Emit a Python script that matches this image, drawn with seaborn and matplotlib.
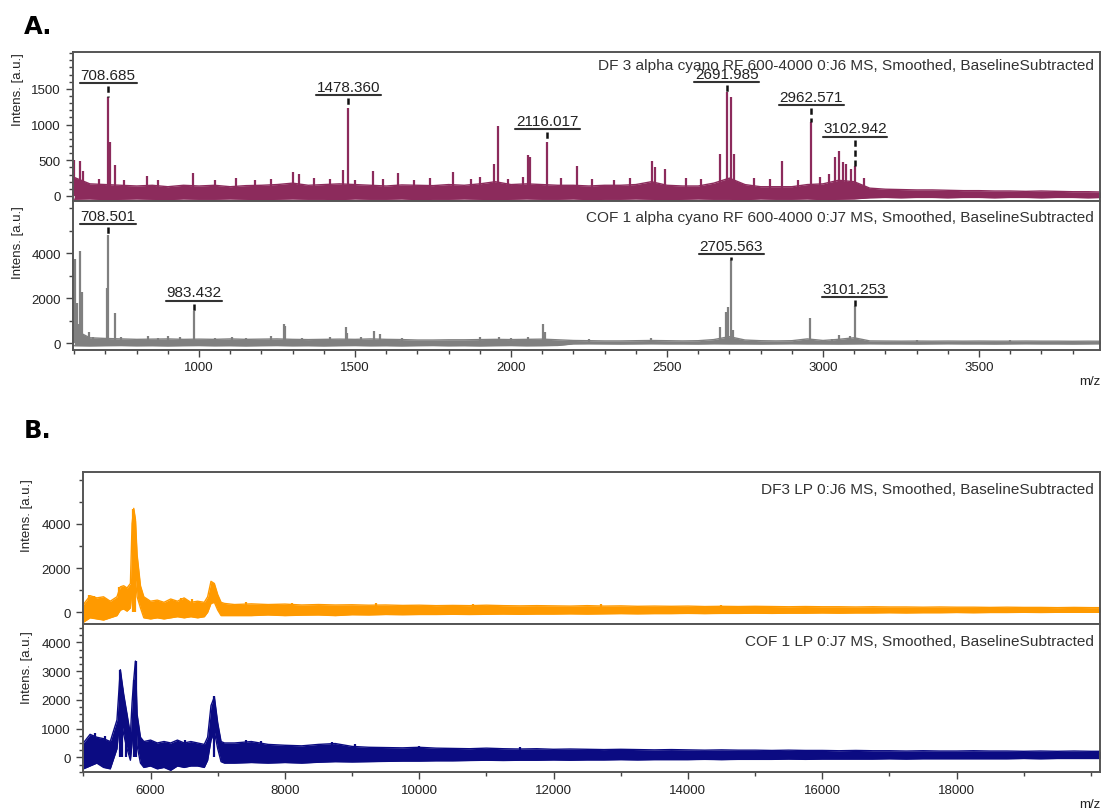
import matplotlib
matplotlib.use("Agg")
import matplotlib.pyplot as plt
from matplotlib.lines import Line2D
from matplotlib.ticker import FixedLocator, MultipleLocator
import seaborn as sns

# ---------------- Panel A: alpha-cyano reflectron spectra ----------------
A_MZ = [600, 650, 700, 750, 800, 850, 900, 950, 1000, 1050,
        1100, 1150, 1200, 1250, 1300, 1350, 1400, 1450, 1500, 1550,
        1600, 1650, 1700, 1750, 1800, 1850, 1900, 1950, 2000, 2050,
        2100, 2150, 2200, 2250, 2300, 2350, 2400, 2450, 2500, 2550,
        2600, 2650, 2700, 2750, 2800, 2850, 2900, 2950, 3000, 3050,
        3100, 3150, 3200, 3250, 3300, 3350, 3400, 3450, 3500, 3550,
        3600, 3650, 3700, 3750, 3800, 3850, 3900]

DF3_A_UPPER = [260, 170, 160, 150, 140, 150, 130, 150, 140, 150,
               130, 145, 150, 160, 180, 150, 160, 170, 160, 150,
               140, 155, 150, 145, 160, 150, 170, 200, 160, 170,
               160, 150, 150, 140, 150, 150, 160, 200, 150, 140,
               140, 180, 250, 160, 130, 130, 130, 160, 170, 220,
               200, 110, 95, 90, 85, 85, 80, 75, 75, 70,
               70, 65, 70, 65, 60, 60, 55]
DF3_A_LOWER = [-45, -40, -50, -45, -40, -45, -50, -40, -45, -45,
               -40, -45, -50, -45, -40, -45, -45, -50, -40, -45,
               -45, -40, -50, -45, -45, -40, -45, -50, -45, -40,
               -45, -45, -40, -50, -45, -45, -40, -45, -50, -45,
               -40, -45, -45, -50, -40, -45, -45, -40, -50, -45,
               -40, -25, -20, -25, -20, -20, -25, -20, -20, -25,
               -20, -20, -25, -20, -20, -25, -20]

DF3_A_PEAK_MZ = [600, 620, 627, 680, 714, 729, 760, 834, 870, 982,
                 1050, 1120, 1180, 1230, 1302, 1319, 1370, 1420, 1461, 1500,
                 1558, 1590, 1638, 1690, 1740, 1815, 1872, 1900, 1946, 1957,
                 1990, 2040, 2054, 2062, 2160, 2210, 2260, 2330, 2380, 2452,
                 2462, 2493, 2560, 2610, 2671, 2705, 2715, 2780, 2830, 2868,
                 2920, 2990, 3018, 3038, 3052, 3064, 3073, 3089, 3130]
DF3_A_PEAK_H = [500, 490, 350, 240, 750, 436, 230, 281, 220, 328,
                230, 250, 220, 240, 337, 305, 250, 240, 366, 230,
                352, 240, 319, 230, 250, 337, 234, 260, 445, 980,
                240, 260, 577, 540, 250, 421, 240, 230, 250, 492,
                400, 375, 250, 240, 586, 1380, 586, 250, 240, 492,
                230, 260, 305, 540, 633, 469, 445, 375, 250]
DF3_A_LABEL_MZ = [708.685, 1478.360, 2116.017, 2691.985, 2962.571, 3102.942]
DF3_A_LABEL_H = [1380, 1230, 750, 1450, 1030, 420]

COF_A_UPPER = [600, 250, 220, 200, 180, 190, 200, 180, 190, 180,
               200, 180, 190, 200, 180, 170, 180, 190, 180, 200,
               180, 170, 150, 150, 160, 160, 170, 180, 170, 180,
               190, 160, 130, 120, 110, 110, 120, 130, 120, 110,
               120, 170, 300, 150, 120, 110, 120, 200, 130, 180,
               250, 110, 105, 100, 105, 100, 105, 100, 105, 100,
               100, 105, 100, 100, 95, 100, 95]
COF_A_LOWER = [-100, -110, -100, -95, -105, -100, -110, -100, -95, -105,
               -100, -110, -100, -95, -105, -100, -110, -100, -95, -105,
               -100, -110, -100, -95, -105, -100, -110, -100, -95, -105,
               -100, -90, -20, -15, -20, -25, -20, -15, -20, -20,
               -25, -15, -20, -20, -25, -20, -15, -20, -20, -25,
               -20, -15, -20, -20, -25, -20, -15, -20, -20, -25,
               -20, -15, -20, -20, -25, -20, -15]

COF_A_PEAK_MZ = [603, 609, 612, 620, 624, 646, 660, 705, 729, 750,
                 836, 870, 902, 940, 1050, 1106, 1150, 1231, 1271, 1277,
                 1330, 1420, 1470, 1475, 1520, 1561, 1580, 1650, 1900, 1960,
                 2000, 2055, 2104, 2109, 2250, 2450, 2671, 2689, 2696, 2711,
                 2959, 3030, 3052, 3086, 3300, 3600]
COF_A_PEAK_H = [3730, 1815, 860, 4100, 2260, 490, 300, 2480, 1340, 280,
                340, 260, 340, 300, 260, 300, 250, 340, 860, 780,
                260, 280, 710, 450, 300, 530, 420, 260, 280, 300,
                260, 300, 860, 500, 200, 220, 710, 1380, 1600, 600,
                1150, 200, 370, 320, 160, 160]
COF_A_LABEL_MZ = [708.501, 983.432, 2705.563, 3101.253]
COF_A_LABEL_H = [4800, 1450, 3700, 1650]

# ---------------- Panel B: linear-mode (LP) spectra ----------------
B_MZ = [5000, 5100, 5200, 5300, 5400, 5500, 5550, 5600, 5650, 5700,
        5725, 5750, 5775, 5800, 5850, 5900, 6000, 6100, 6200, 6300,
        6400, 6500, 6600, 6700, 6800, 6850, 6900, 6950, 7000, 7050,
        7100, 7250, 7500, 7750, 8000, 8250, 8500, 8750, 9000, 9250,
        9500, 9750, 10000, 10250, 10500, 10750, 11000, 11250, 11500, 11750,
        12000, 12250, 12500, 12750, 13000, 13250, 13500, 13750, 14000, 14250,
        14500, 14750, 15000, 15250, 15500, 15750, 16000, 16250, 16500, 16750,
        17000, 17250, 17500, 17750, 18000, 18250, 18500, 18750, 19000, 19250,
        19500, 19750, 20000, 20250]

DF3_B_UPPER = [350, 750, 650, 700, 500, 700, 1150, 1200, 1100, 1300,
               4000, 4700, 4200, 2600, 1200, 700, 500, 550, 450, 600,
               500, 650, 450, 500, 450, 700, 1400, 1300, 800, 450,
               400, 350, 380, 350, 370, 330, 350, 330, 340, 320,
               330, 310, 320, 300, 310, 300, 320, 300, 290, 300,
               290, 280, 300, 280, 290, 270, 280, 270, 280, 260,
               270, 260, 270, 260, 250, 260, 250, 250, 240, 250,
               240, 240, 230, 240, 230, 230, 220, 230, 220, 220,
               210, 220, 210, 210]
DF3_B_LOWER = [-450, -250, -300, -350, -250, -150, 100, 150, 50, 200,
               1000, 2000, 1500, 700, 200, -250, -300, -250, -300, -250,
               -200, -250, -200, -250, -200, 0, 400, 450, 100, -150,
               -150, -150, -150, -120, -150, -130, -120, -150, -110, -120,
               -100, -110, -100, -100, -90, -100, -90, -80, -90, -80,
               -80, -70, -80, -70, -60, -70, -60, -60, -50, -60,
               -50, -50, -40, -50, -40, -40, -30, -40, -30, -30,
               -20, -30, -20, -20, -10, -20, -10, -10, 0, -10,
               0, 0, 0, 0]
DF3_B_SPIKE_MZ = [5080, 5160, 5530, 5745, 5765, 6450, 6620, 7420, 8100, 9350, 10800, 12700, 14500]
DF3_B_SPIKE_H = [780, 720, 1150, 4670, 4150, 650, 600, 480, 420, 420, 380, 360, 330]

COF_B_UPPER = [500, 800, 700, 650, 550, 1300, 3050, 2200, 1500, 800,
               1900, 2700, 3350, 1500, 700, 550, 600, 500, 550, 500,
               600, 500, 550, 500, 450, 700, 1800, 2100, 1200, 550,
               500, 500, 550, 450, 420, 400, 450, 480, 380, 350,
               340, 330, 350, 320, 310, 300, 320, 300, 290, 300,
               280, 290, 280, 270, 280, 270, 260, 270, 260, 250,
               260, 250, 250, 240, 250, 240, 240, 230, 240, 230,
               230, 220, 230, 220, 220, 230, 220, 220, 210, 220,
               210, 220, 210, 210]
COF_B_LOWER = [-400, -300, -200, -350, -400, 300, 1500, 800, 300, -100,
               500, 1200, 1500, 400, -200, -350, -300, -400, -350, -450,
               -300, -350, -300, -300, -350, -100, 600, 900, 300, -150,
               -200, -200, -180, -200, -180, -200, -170, -150, -160, -150,
               -140, -130, -130, -120, -120, -110, -100, -110, -100, -100,
               -90, -100, -90, -90, -80, -90, -80, -80, -80, -70,
               -80, -70, -70, -70, -60, -70, -60, -60, -60, -60,
               -50, -60, -50, -50, -50, -50, -50, -50, -40, -50,
               -40, -40, -40, -40]
COF_B_SPIKE_MZ = [5180, 5320, 5545, 5580, 5640, 5760, 5778, 6520, 6950, 7420, 7650, 8700, 9050, 10000, 11500]
COF_B_SPIKE_H = [850, 750, 3050, 2400, 1550, 2700, 3350, 600, 2150, 620, 580, 520, 470, 400, 360]

TITLES = ["DF 3 alpha cyano RF 600-4000 0:J6 MS, Smoothed, BaselineSubtracted",
          "COF 1 alpha cyano RF 600-4000 0:J7 MS, Smoothed, BaselineSubtracted",
          "DF3 LP 0:J6 MS, Smoothed, BaselineSubtracted",
          "COF 1 LP 0:J7 MS, Smoothed, BaselineSubtracted"]

MAROON = "#8c2b5c"
GREY = "#808080"
ORANGE = "#ff9a00"
NAVY = "#0b0b82"

# ---------------- figure setup ----------------
W, H = 1105, 812
sns.set_theme(style="ticks")
plt.rcParams["font.family"] = ["Liberation Sans", "DejaVu Sans"]

fig = plt.figure(figsize=(W / 100, H / 100), dpi=100)


def box(left, top, right, bottom):
    return [left / W, 1 - bottom / H, (right - left) / W, (bottom - top) / H]


ax_a1 = fig.add_axes(box(72.7, 52.7, 1100, 202))
ax_a2 = fig.add_axes(box(72.7, 202, 1100, 350.5))
ax_b1 = fig.add_axes(box(82.7, 473.3, 1100, 625))
ax_b2 = fig.add_axes(box(82.7, 625, 1100, 773))


def draw_spectrum(ax, mz, lo, hi, stem_mz, stem_h, color):
    ax.fill_between(mz, lo, hi, color=color, linewidth=0)
    sns.lineplot(x=mz, y=hi, ax=ax, color=color, linewidth=1.0)
    sns.lineplot(x=mz, y=lo, ax=ax, color=color, linewidth=1.0)
    ax.vlines(stem_mz, 0, stem_h, color=color, linewidth=1.6)


draw_spectrum(ax_a1, A_MZ, DF3_A_LOWER, DF3_A_UPPER,
              DF3_A_PEAK_MZ + DF3_A_LABEL_MZ, DF3_A_PEAK_H + DF3_A_LABEL_H, MAROON)
draw_spectrum(ax_a2, A_MZ, COF_A_LOWER, COF_A_UPPER,
              COF_A_PEAK_MZ + COF_A_LABEL_MZ, COF_A_PEAK_H + COF_A_LABEL_H, GREY)
draw_spectrum(ax_b1, B_MZ, DF3_B_LOWER, DF3_B_UPPER, DF3_B_SPIKE_MZ, DF3_B_SPIKE_H, ORANGE)
draw_spectrum(ax_b2, B_MZ, COF_B_LOWER, COF_B_UPPER, COF_B_SPIKE_MZ, COF_B_SPIKE_H, NAVY)

# ---------------- axes styling ----------------
for ax in (ax_a1, ax_a2):
    ax.set_xlim(595, 3888)
for ax in (ax_b1, ax_b2):
    ax.set_xlim(4990, 20135)

ax_a1.set_ylim(-70, 2020)
ax_a1.yaxis.set_major_locator(FixedLocator([0, 500, 1000, 1500]))
ax_a1.yaxis.set_minor_locator(MultipleLocator(100))

ax_a2.set_ylim(-270, 6320)
ax_a2.yaxis.set_major_locator(FixedLocator([0, 2000, 4000]))
ax_a2.yaxis.set_minor_locator(MultipleLocator(1000))
ax_a2.xaxis.set_major_locator(FixedLocator([1000, 1500, 2000, 2500, 3000, 3500]))
ax_a2.xaxis.set_minor_locator(MultipleLocator(100))

ax_b1.set_ylim(-530, 6330)
ax_b1.yaxis.set_major_locator(FixedLocator([0, 2000, 4000]))
ax_b1.yaxis.set_minor_locator(MultipleLocator(1000))

ax_b2.set_ylim(-510, 4640)
ax_b2.yaxis.set_major_locator(FixedLocator([0, 1000, 2000, 3000, 4000]))
ax_b2.yaxis.set_minor_locator(MultipleLocator(250))
ax_b2.xaxis.set_major_locator(FixedLocator([6000, 8000, 10000, 12000, 14000, 16000, 18000]))
ax_b2.xaxis.set_minor_locator(MultipleLocator(1000))

for ax in (ax_a1, ax_a2, ax_b1, ax_b2):
    ax.set_xlabel("")
    ax.set_ylabel("")
    for sp in ax.spines.values():
        sp.set_visible(True)
        sp.set_color("#555555")
        sp.set_linewidth(1.4)
    ax.tick_params(which="both", direction="out", color="#444444", width=1,
                   labelsize=9.5, labelcolor="#222222", top=False, right=False)
    ax.tick_params(which="major", length=5, pad=3.5)
    ax.tick_params(which="minor", length=3)

for ax in (ax_a1, ax_b1):
    ax.tick_params(axis="x", which="both", bottom=False, labelbottom=False)


# ---------------- text ----------------
def px_text(x, y, s, **kw):
    fig.text(x / W, 1 - y / H, s, **kw)


px_text(24, 27, "A.", fontsize=17.5, fontweight="bold", family="DejaVu Sans",
        ha="left", va="center", color="black")
px_text(24, 431, "B.", fontsize=17.5, fontweight="bold", family="DejaVu Sans",
        ha="left", va="center", color="black")

for (x, y) in [(18, 90), (18, 243), (27, 516), (27, 668)]:
    px_text(x, y, "Intens. [a.u.]", rotation=90, fontsize=9.5, ha="center",
            va="center", color="#222222")

for (y, s) in zip([66, 218, 490, 642], TITLES):
    px_text(1094, y, s, fontsize=11.1, ha="right", va="center", color="#333333")

px_text(1090, 382, "m/z", fontsize=9.5, ha="center", va="center", color="#222222")
px_text(1090, 805, "m/z", fontsize=9.5, ha="center", va="center", color="#222222")


# ---------------- peak annotations ----------------
def label_peaks(ax, mzs, heights, gaps):
    for mz, h, gap in zip(mzs, heights, gaps):
        xd, yd = ax.transData.transform((mz, h))
        yu = yd + gap
        text = f"{mz:.3f}"
        half = 4.05 * len(text)
        fig.add_artist(Line2D([(xd - half) / W, (xd + half) / W], [yu / H, yu / H],
                              transform=fig.transFigure, color="#333333", linewidth=1.5))
        fig.add_artist(Line2D([xd / W, xd / W], [(yu - 3) / H, yd / H],
                              transform=fig.transFigure, color="#111111",
                              linewidth=1.8, linestyle=(0, (2.5, 1.5))))
        fig.text(xd / W, (yu + 1.5) / H, text, ha="center", va="bottom",
                 fontsize=11, color="#222222")


label_peaks(ax_a1, DF3_A_LABEL_MZ, DF3_A_LABEL_H, [14, 13, 13, 10, 17, 29])
label_peaks(ax_a2, COF_A_LABEL_MZ, COF_A_LABEL_H, [11, 10, 6, 9])

fig.savefig("out.png", dpi=100)
